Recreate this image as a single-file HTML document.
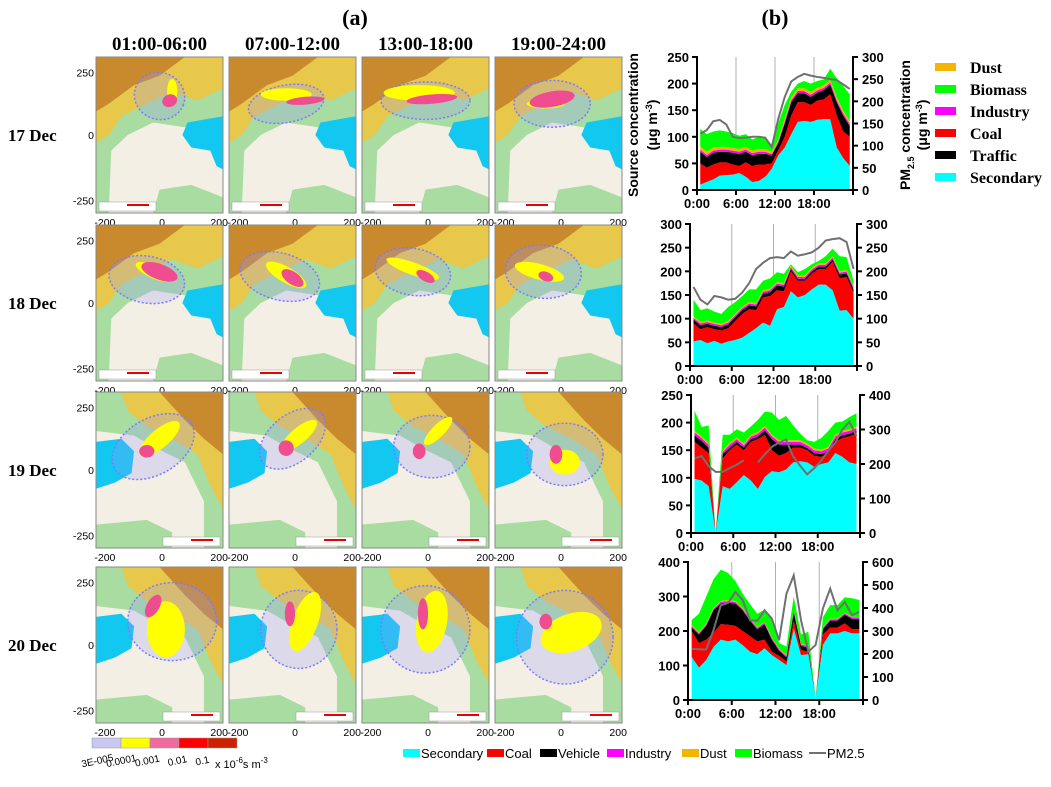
<!DOCTYPE html>
<html><head><meta charset="utf-8">
<style>
body{margin:0;background:#fff;}
svg text{font-family:"Liberation Sans",sans-serif;}
.ser{font-family:"Liberation Serif",serif;font-weight:bold;}
.tk{font-size:13px;font-weight:bold;}
.mt{font-size:10.5px;}
</style></head>
<body>
<svg id="fig" width="1051" height="782" viewBox="0 0 1051 782" xmlns="http://www.w3.org/2000/svg">
<text class="ser" x="355" y="25" font-size="22" text-anchor="middle">(a)</text>
<text class="ser" x="775" y="25" font-size="22" text-anchor="middle">(b)</text>
<g id="maps"></g>
<g id="charts"></g>
<g id="legendR"></g>
<g id="legendB"></g>
<g id="cbar"></g>
</svg>
<script>
// ---------- chart data (hour-by-hour components, µg m-3) ----------
const hours = [0.5,1.5,2.5,3.5,4.5,5.5,6.5,7.5,8.5,9.5,10.5,11.5,12.5,13.5,14.5,15.5,16.5,17.5,18.5,19.5,20.5,21.5,22.5,23.5];
const xTickLabels = ["0:00","6:00","12:00","18:00"];
const sourceNames = ["Secondary","Coal","Traffic","Industry","Dust","Biomass"];
// Day 17
const sec17 = [10,15,20,27,28,29,32,25,15,17,25,40,65,80,105,128,130,128,132,133,133,80,60,45];
const coal17 = [40,27,28,25,24,19,13,27,30,31,23,10,10,20,35,37,35,32,36,37,47,60,50,55];
const traf17 = [22,20,22,20,20,22,23,20,20,20,20,15,13,25,25,17,17,15,15,18,18,25,30,20];
const ind17 = [4,4,4,4,4,4,4,4,4,4,4,3,3,4,4,4,4,4,4,4,4,4,4,4];
const dust17 = [6,6,6,5,5,5,5,5,5,5,5,4,4,5,5,5,5,5,5,5,5,5,5,5];
const bio17 = [33,33,30,31,29,28,25,24,21,23,23,8,30,26,11,9,14,16,13,11,21,36,46,51];
const pm17 = [127,135,155,158,148,120,117,118,120,120,118,97,160,210,245,255,262,258,255,253,250,248,238,228];
// Day 18
const sec18 = [52,55,48,53,47,52,55,60,70,80,92,85,120,125,158,145,150,162,172,172,160,117,118,100];
const coal18 = [38,23,34,25,28,28,40,50,50,38,53,63,40,33,42,35,30,33,33,33,60,68,70,55];
const traf18 = [8,8,7,7,7,8,8,8,8,8,8,8,10,10,5,4,4,5,5,5,5,8,8,7];
const ind18 = [4,4,4,4,4,4,4,4,4,4,4,4,4,4,4,4,4,4,4,4,4,4,4,4];
const dust18 = [3,3,3,3,3,3,3,3,3,3,3,3,3,3,3,3,3,3,3,3,3,3,3,3];
const bio18 = [35,25,26,23,21,30,25,23,27,29,20,22,21,20,3,7,14,8,5,15,16,32,27,11];
const pm18 = [167,140,130,148,145,140,142,155,175,205,218,228,230,228,242,233,236,240,250,265,268,270,262,205];
// Day 19
const sec19 = [98,95,85,0,85,80,92,105,95,80,102,112,110,115,128,130,128,120,125,128,145,138,128,125];
const coal19 = [67,60,60,0,50,70,68,45,70,90,76,38,30,30,27,25,22,20,13,17,20,34,47,55];
const traf19 = [12,12,10,0,8,5,5,5,5,5,8,20,20,15,5,5,4,5,5,3,5,5,5,5];
const ind19 = [5,5,5,0,4,5,5,4,5,5,5,5,5,5,5,5,5,5,5,5,5,5,5,5];
const dust19 = [3,3,3,0,3,3,3,3,3,3,3,3,3,3,3,3,3,3,3,3,3,3,3,3];
const bio19 = [37,17,32,0,28,15,15,20,15,22,26,40,37,44,27,12,6,12,21,29,22,17,22,24];
const pm19 = [216,223,194,177,177,188,198,211,null,205,228,250,262,271,222,195,170,188,210,238,262,300,322,281];
// Day 20
const sec20 = [125,94,116,154,175,170,175,159,140,133,150,130,116,101,207,130,133,5,160,193,193,200,193,193];
const coal20 = [75,71,59,41,45,48,40,41,45,37,25,10,12,11,23,15,7,0,30,17,17,22,12,12];
const traf20 = [10,25,40,65,60,65,65,60,45,35,45,35,15,12,25,12,12,0,15,20,20,25,30,30];
const ind20 = [5,4,4,4,4,4,4,4,4,4,4,4,4,3,4,4,4,0,4,4,4,4,4,4];
const dust20 = [2,2,2,3,3,3,3,3,2,2,2,2,2,2,2,2,2,0,2,2,2,2,2,2];
const bio20 = [15,54,79,83,91,78,58,41,42,39,36,59,16,26,39,27,40,0,29,39,39,45,54,49];
const pm20 = [223,220,220,304,412,422,470,434,347,344,390,354,260,462,542,347,210,239,398,484,390,426,369,383];

const colors = ["#00ffff","#ff0000","#000000","#ff00ff","#f5b400","#00ff00"];
const NS="http://www.w3.org/2000/svg";
function mk(tag,attrs,parent){const e=document.createElementNS(NS,tag);for(const k in attrs)e.setAttribute(k,attrs[k]);parent.appendChild(e);return e;}

const chartsG=document.getElementById('charts');
const chartDefs=[
 {series:[sec17,coal17,traf17,ind17,dust17,bio17],pm:pm17,x0:697,x1:853,yT:57,yB:190,lMax:250,lStep:50,rMax:300,rStep:50},
 {series:[sec18,coal18,traf18,ind18,dust18,bio18],pm:pm18,x0:690,x1:857,yT:224,yB:366,lMax:300,lStep:50,rMax:300,rStep:50},
 {series:[sec19,coal19,traf19,ind19,dust19,bio19],pm:pm19,x0:691,x1:860,yT:395,yB:533,lMax:250,lStep:50,rMax:400,rStep:100},
 {series:[sec20,coal20,traf20,ind20,dust20,bio20],pm:pm20,x0:688,x1:863,yT:562,yB:700,lMax:400,lStep:100,rMax:600,rStep:100}
];
chartDefs.forEach((c,ci)=>{
  const g=mk('g',{},chartsG);
  
  
  const xs=h=>c.x0+(c.x1-c.x0)*h/24;
  const yl=v=>c.yB-(c.yB-c.yT)*v/c.lMax;
  const yr=v=>c.yB-(c.yB-c.yT)*v/c.rMax;
  [6,12,18].forEach(h=>{const l=mk('line',{x1:xs(h),x2:xs(h),y1:c.yT,y2:c.yB,stroke:'#b0b0b0','stroke-width':1},g);
    });
  let base=hours.map(()=>0);
  c.series.forEach((s,si)=>{
    const top=base.map((b,i)=>b+s[i]);
    let pts=hours.map((h,i)=>xs(h)+','+yl(top[i]));
    for(let i=hours.length-1;i>=0;i--)pts.push(xs(hours[i])+','+yl(base[i]));
    const p=mk('polygon',{points:pts.join(' '),fill:colors[si]},g);
    
    
    base=top;
  });
  let d='',pen=false;
  c.pm.forEach((v,i)=>{if(v===null){pen=false;return;}d+=(pen?'L':'M')+xs(hours[i])+','+yr(v)+' ';pen=true;});
  const pl=mk('path',{d:d,fill:'none',stroke:'#707070','stroke-width':2},g);
  
  
  mk('line',{x1:c.x0,x2:c.x0,y1:c.yT-1,y2:c.yB,stroke:'#000','stroke-width':2},g);
  mk('line',{x1:c.x1,x2:c.x1,y1:c.yT-1,y2:c.yB,stroke:'#000','stroke-width':2},g);
  mk('line',{x1:c.x0,x2:c.x1,y1:c.yB,y2:c.yB,stroke:'#000','stroke-width':2},g);
  for(let v=0;v<=c.lMax;v+=c.lStep){mk('line',{x1:c.x0-5,x2:c.x0,y1:yl(v),y2:yl(v),stroke:'#000','stroke-width':2},g);
    const t=mk('text',{x:c.x0-8,y:yl(v)+5,'text-anchor':'end',class:'tk'},g);t.textContent=v;
    }
  for(let v=0;v<=c.rMax;v+=c.rStep){mk('line',{x1:c.x1,x2:c.x1+5,y1:yr(v),y2:yr(v),stroke:'#000','stroke-width':2},g);
    const t=mk('text',{x:c.x1+9,y:yr(v)+5,'text-anchor':'start',class:'tk'},g);t.textContent=v;
    }
  [0,6,12,18,24].forEach(h=>mk('line',{x1:xs(h),x2:xs(h),y1:c.yB,y2:c.yB+5,stroke:'#000','stroke-width':2},g));
  xTickLabels.forEach((lb,i)=>{const t=mk('text',{x:xs(i*6),y:c.yB+18,'text-anchor':'middle',class:'tk'},g);t.textContent=lb;
    });
});
(function(){
  const t1=mk('text',{transform:'translate(638,125) rotate(-90)','text-anchor':'middle','font-size':'14','font-weight':'bold'},chartsG);
  t1.textContent='Source concentration';
  
  const t2=mk('text',{transform:'translate(657,125) rotate(-90)','text-anchor':'middle','font-size':'14','font-weight':'bold'},chartsG);
  t2.innerHTML='(μg m<tspan dy="-5" font-size="9">-3</tspan><tspan dy="5">)</tspan>';
  
  const t3=mk('text',{transform:'translate(910,125) rotate(-90)','text-anchor':'middle','font-size':'14','font-weight':'bold'},chartsG);
  t3.innerHTML='PM<tspan dy="4" font-size="9">2.5</tspan><tspan dy="-4"> concentration</tspan>';
  
  const t4=mk('text',{transform:'translate(927,125) rotate(-90)','text-anchor':'middle','font-size':'14','font-weight':'bold'},chartsG);
  t4.innerHTML='(μg m<tspan dy="-5" font-size="9">-3</tspan><tspan dy="5">)</tspan>';
  
})();
(function(){
  const lg=document.getElementById('legendR');
  const items=[["Dust",4],["Biomass",5],["Industry",3],["Coal",1],["Traffic",2],["Secondary",0]];
  items.forEach((it,i)=>{const y=67+i*22;
    const g=mk('g',{},lg);
    
    
    mk('rect',{x:935,y:y-4,width:21,height:8,fill:colors[it[1]]},g);
    const t=mk('text',{x:970,y:y+6,class:'ser','font-size':'16'},g);t.textContent=it[0];});
})();
(function(){
  const lg=document.getElementById('legendB');
  const items=[["Secondary",0,403],["Coal",1,487],["Vehicle",2,540],["Industry",3,607],["Dust",4,682],["Biomass",5,735]];
  items.forEach(it=>{const g=mk('g',{},lg);
    
    
    mk('rect',{x:it[2],y:749,width:17,height:8,fill:colors[it[1]]},g);
    const t=mk('text',{x:it[2]+18,y:758,'font-size':'13'},g);t.textContent=it[0];});
  const g=mk('g',{},lg);
  
  
  mk('line',{x1:809,x2:826,y1:753,y2:753,stroke:'#707070','stroke-width':2},g);
  const t=mk('text',{x:827,y:758,'font-size':'13'},g);t.textContent='PM2.5';
})();
(function(){
  const cb=document.getElementById('cbar');
  const cols=['#c8c8f0','#ffff00','#f06aa0','#ff0000','#cc2200'];
  cols.forEach((c,i)=>{const r=mk('rect',{x:92+i*29,y:738,width:29,height:10,fill:c,stroke:'#999','stroke-width':0.5},cb);
    });
  const labs=['3E-005','0.0001','0.001','0.01','0.1'];
  const lx=[98,122,148,178,203];
  labs.forEach((l,i)=>{const t=mk('text',{transform:`translate(${lx[i]},${764}) rotate(-12)`,'font-size':'10','text-anchor':'middle'},cb);t.textContent=l;
    });
  const u=mk('text',{x:215,y:768,'font-size':'11'},cb);u.innerHTML='x 10<tspan dy="-5" font-size="8">-6</tspan><tspan dy="5">s m</tspan><tspan dy="-5" font-size="8">-3</tspan>';
  
})();
(function(){
  const mg=document.getElementById('maps');
  const cols=[96,229,362,495], rows=[57,225,392,567], W=127, H=156;
  const times=["01:00-06:00","07:00-12:00","13:00-18:00","19:00-24:00"];
  const days=["17 Dec","18 Dec","19 Dec","20 Dec"];
  times.forEach((t,i)=>{const e=mk('text',{x:cols[i]+W/2,y:50,'text-anchor':'middle',class:'ser','font-size':'19'},mg);e.textContent=t;
    });
  days.forEach((d,j)=>{const e=mk('text',{x:8,y:rows[j]+H/2+6,class:'ser','font-size':'17'},mg);e.textContent=d;
    });
  const plumes=[
   [[[.5,.25,.2,.15,20],[.6,.22,.04,.08,0],[.58,.28,.06,.04,-20]],[[.45,.3,.3,.12,-10],[.45,.24,.2,.04,0],[.6,.28,.15,.025,-5]],[[.5,.28,.35,.12,0],[.45,.23,.28,.05,0],[.55,.27,.2,.03,-5]],[[.45,.3,.3,.15,0],[.4,.3,.15,.03,0],[.45,.27,.18,.05,-10]]],
   [[[.4,.35,.3,.15,10],[.45,.3,.15,.04,25],[.5,.3,.15,.05,20]],[[.4,.33,.32,.15,15],[.45,.32,.18,.05,30],[.5,.34,.1,.04,35]],[[.4,.3,.3,.15,10],[.4,.28,.22,.04,20],[.5,.33,.08,.03,30]],[[.38,.3,.3,.17,5],[.35,.3,.2,.05,15],[.4,.33,.06,.03,20]]],
   [[[.45,.35,.35,.18,-30],[.5,.3,.2,.06,-40],[.4,.38,.06,.04,0]],[[.5,.3,.3,.15,-40],[.55,.28,.18,.05,-40],[.45,.36,.06,.05,0]],[[.55,.35,.3,.2,0],[.6,.25,.15,.04,-45],[.45,.38,.05,.05,0]],[[.55,.4,.3,.2,0],[.55,.45,.12,.08,0],[.48,.4,.05,.06,0]]],
   [[[.6,.35,.35,.25,0],[.55,.4,.15,.18,0],[.45,.25,.05,.08,30]],[[.55,.4,.3,.25,0],[.6,.35,.1,.2,20],[.48,.3,.04,.08,0]],[[.5,.4,.35,.28,0],[.55,.35,.12,.2,10],[.48,.3,.04,.1,0]],[[.55,.45,.38,.3,0],[.6,.42,.25,.12,-20],[.4,.35,.05,.05,0]]]
  ];
  rows.forEach((y0,j)=>cols.forEach((x0,i)=>{
    const g=mk('g',{},mg);
    
    
    const id='clip'+j+i;
    const cp=mk('clipPath',{id:id},g);mk('rect',{x:x0,y:y0,width:W,height:H},cp);
    const inner=mk('g',{'clip-path':`url(#${id})`},g);
    const P=(arr)=>arr.map(p=>(x0+p[0]*W)+','+(y0+p[1]*H)).join(' ');
    mk('rect',{x:x0,y:y0,width:W,height:H,fill:'#f3efe4'},inner);
    if(j<2){
      mk('polygon',{points:P([[0,0],[1,0],[1,.38],[.7,.45],[.45,.42],[.25,.5],[.12,.6],[.1,1],[0,1]]),fill:'#a8dca0'},inner);
      mk('polygon',{points:P([[0,0],[1,0],[1,.2],[.8,.28],[.6,.22],[.4,.3],[.2,.38],[.1,.5],[0,.55]]),fill:'#e8c84a'},inner);
      mk('polygon',{points:P([[0,0],[.7,0],[.5,.12],[.3,.18],[.1,.3],[0,.35]]),fill:'#c98a2e'},inner);
      mk('polygon',{points:P([[.5,.85],[.75,.82],[1,.9],[1,1],[.45,1]]),fill:'#a8dca0'},inner);
      mk('polygon',{points:P([[.72,.42],[1,.38],[1,.72],[.95,.7],[.9,.6],[.75,.58],[.68,.5]]),fill:'#12c8f0'},inner);
    } else {
      mk('polygon',{points:P([[0,0],[1,0],[1,1],[.85,1],[.85,.7],[.7,.45],[.45,.35],[.3,.28],[0,.25]]),fill:'#a8dca0'},inner);
      mk('polygon',{points:P([[.2,0],[1,0],[1,.75],[.9,.6],[.8,.4],[.6,.3],[.4,.22],[.25,.12]]),fill:'#e8c84a'},inner);
      mk('polygon',{points:P([[.5,0],[1,0],[1,.4],[.85,.3],[.7,.18]]),fill:'#c98a2e'},inner);
      mk('polygon',{points:P([[0,.85],[.4,.82],[.6,.9],[.6,1],[0,1]]),fill:'#a8dca0'},inner);
      mk('polygon',{points:P([[0,.32],[.2,.3],[.3,.38],[.28,.52],[.15,.58],[0,.62]]),fill:'#12c8f0'},inner);
    }
    const pl=plumes[j][i];
    const cols3=[['none','#7a7aff'],['#ffff00','none'],['#f04c90','none']];
    pl.forEach((p,k)=>{const cx=x0+p[0]*W, cy=y0+p[1]*H;
      const e=mk('ellipse',{cx:cx,cy:cy,rx:p[2]*W,ry:p[3]*H,transform:`rotate(${p[4]} ${cx} ${cy})`,fill:k==0?'rgba(150,150,255,0.25)':cols3[k][0],stroke:cols3[k][1],'stroke-width':1.5,'stroke-dasharray':k==0?'2 2':''},inner);
      });
    const lx=j<2?x0+3:x0+W-60;
    mk('rect',{x:lx,y:y0+H-11,width:57,height:9,fill:'#fff',stroke:'#999','stroke-width':0.5},inner);
    mk('line',{x1:lx+28,x2:lx+50,y1:y0+H-8,y2:y0+H-8,stroke:'#e00','stroke-width':2},inner);
    mk('rect',{x:x0,y:y0,width:W,height:H,fill:'none',stroke:'#888','stroke-width':1},g);
    if(i==0){[['250',.1],['0',.5],['-250',.92]].forEach(a=>{const t=mk('text',{x:x0-2,y:y0+a[1]*H+4,'text-anchor':'end',class:'mt'},g);t.textContent=a[0];});}
    [['-200',.07],['0',.52],['200',.97]].forEach(a=>{const t=mk('text',{x:x0+a[1]*W,y:y0+H+13,'text-anchor':'middle',class:'mt'},g);t.textContent=a[0];});
  }));
})();
</script>
</body></html>
